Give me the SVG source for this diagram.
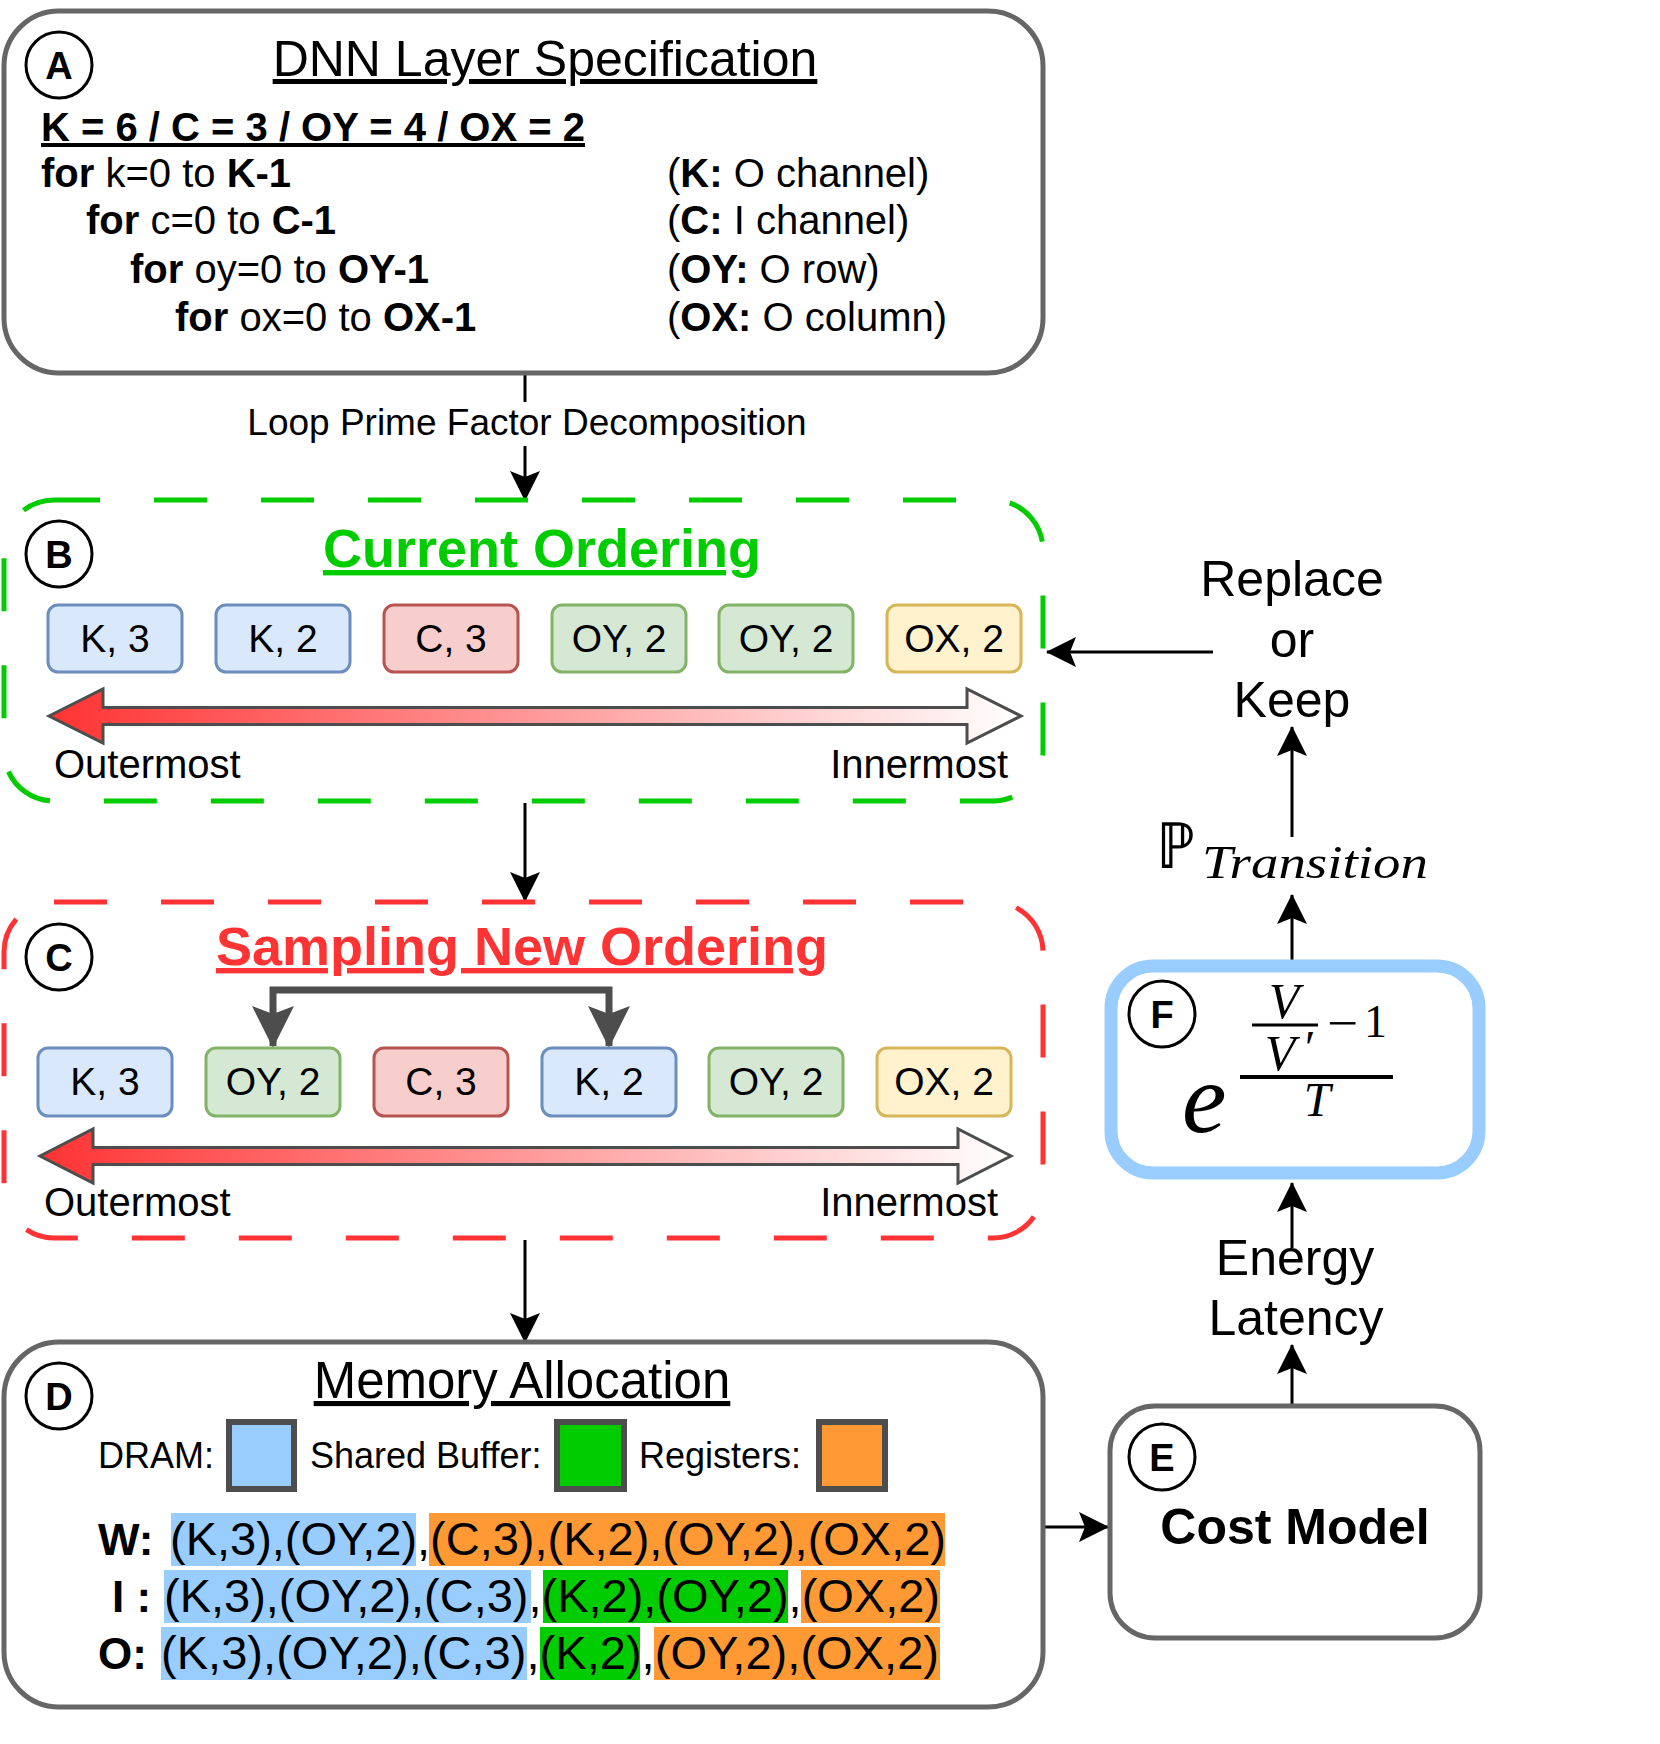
<svg xmlns="http://www.w3.org/2000/svg" width="1660" height="1744" viewBox="0 0 1660 1744">
<style>
text { font-family: "Liberation Sans", Arial, sans-serif; fill: #000; }
.b { font-weight: bold; }
.box { fill: #fff; stroke: #666; stroke-width: 5; }
.circ { fill: #fff; stroke: #000; stroke-width: 3; }
.circt { font-size: 38px; font-weight: bold; text-anchor: middle; }
.code { font-size: 40px; }
.cell { font-size: 39px; text-anchor: middle; }
.blue { fill: #dae8fc; stroke: #6c8ebf; stroke-width: 3; }
.red { fill: #f8cecc; stroke: #b85450; stroke-width: 3; }
.green { fill: #d5e8d4; stroke: #82b366; stroke-width: 3; }
.yellow { fill: #fff2cc; stroke: #d6b656; stroke-width: 3; }
.darr { fill: url(#grad); stroke: #4d4d4d; stroke-width: 3; }
.edge { fill: none; stroke: #000; stroke-width: 3; }
.lbl { font-size: 40px; }
.big { font-size: 50px; text-anchor: middle; }
.row { font-size: 47px; }
.rowl { font-size: 44px; font-weight: bold; }
.leg { font-size: 36px; }
.sw { stroke: #4d4d4d; stroke-width: 6; }
.math { font-family: "Liberation Serif", "Times New Roman", serif; font-style: italic; }
.mathr { font-family: "Liberation Serif", "Times New Roman", serif; }
</style>
<defs>
<linearGradient id="grad" x1="0" y1="0" x2="1" y2="0">
<stop offset="0" stop-color="#FF3333"/>
<stop offset="1" stop-color="#FFFFFF"/>
</linearGradient>
<marker id="arr" markerUnits="userSpaceOnUse" viewBox="0 0 30 30" markerWidth="30" markerHeight="30" refX="29" refY="15" orient="auto">
<path d="M0,0 L30,15 L0,30 L6,15 Z" fill="#000"/>
</marker>
<marker id="arrG" markerUnits="userSpaceOnUse" viewBox="0 0 42 42" markerWidth="42" markerHeight="42" refX="40" refY="21" orient="auto-start-reverse">
<path d="M0,0 L42,21 L0,42 L8,21 Z" fill="#4d4d4d"/>
</marker>
</defs>
<rect width="1660" height="1744" fill="#fff"/>

<g id="connectors">
<line class="edge" x1="525" y1="373" x2="525" y2="402"/>
<text x="527" y="435" font-size="37" text-anchor="middle">Loop Prime Factor Decomposition</text>
<line class="edge" x1="525" y1="446" x2="525" y2="500" marker-end="url(#arr)"/>
<line class="edge" x1="525" y1="803" x2="525" y2="901" marker-end="url(#arr)"/>
<line class="edge" x1="525" y1="1240" x2="525" y2="1342" marker-end="url(#arr)"/>
<line class="edge" x1="1045" y1="1527" x2="1108" y2="1527" marker-end="url(#arr)"/>
<line class="edge" x1="1292" y1="1404" x2="1292" y2="1345" marker-end="url(#arr)"/>
<text class="big" x="1295" y="1275">Energy</text>
<text class="big" x="1296" y="1335">Latency</text>
<line class="edge" x1="1292" y1="1248" x2="1292" y2="1183" marker-end="url(#arr)"/>
<line class="edge" x1="1292" y1="961" x2="1292" y2="895" marker-end="url(#arr)"/>
<text x="1156" y="868" font-family="DejaVu Serif, serif" font-size="64" textLength="40" lengthAdjust="spacingAndGlyphs">ℙ</text>
<text class="math" x="1202" y="878" font-size="46" textLength="226" lengthAdjust="spacingAndGlyphs">Transition</text>
<line class="edge" x1="1292" y1="837" x2="1292" y2="727" marker-end="url(#arr)"/>
<text class="big" x="1292" y="596">Replace</text>
<text class="big" x="1292" y="657">or</text>
<text class="big" x="1292" y="717">Keep</text>
<line class="edge" x1="1213" y1="652" x2="1047" y2="652" marker-end="url(#arr)"/>
</g>

<g id="nodeA">
<rect class="box" x="4" y="11" width="1039" height="362" rx="55"/>
<circle class="circ" cx="59" cy="65" r="33"/>
<text class="circt" x="59" y="79">A</text>
<text x="545" y="76" font-size="50" text-anchor="middle" text-decoration="underline">DNN Layer Specification</text>
<text x="41" y="141" font-size="40" class="b" text-decoration="underline">K = 6 / C = 3 / OY = 4 / OX = 2</text>
<text class="code" x="41" y="187"><tspan class="b">for</tspan> k=0 to <tspan class="b">K-1</tspan></text>
<text class="code" x="86" y="234"><tspan class="b">for</tspan> c=0 to <tspan class="b">C-1</tspan></text>
<text class="code" x="130" y="283"><tspan class="b">for</tspan> oy=0 to <tspan class="b">OY-1</tspan></text>
<text class="code" x="175" y="331"><tspan class="b">for</tspan> ox=0 to <tspan class="b">OX-1</tspan></text>
<text class="code" x="667" y="187">(<tspan class="b">K:</tspan> O channel)</text>
<text class="code" x="667" y="234">(<tspan class="b">C:</tspan> I channel)</text>
<text class="code" x="667" y="283">(<tspan class="b">OY:</tspan> O row)</text>
<text class="code" x="667" y="331">(<tspan class="b">OX:</tspan> O column)</text>
</g>

<g id="nodeB">
<rect x="4" y="500" width="1039" height="301" rx="50" fill="#fff" stroke="#00CC00" stroke-width="5" stroke-dasharray="53 54" stroke-dashoffset="7"/>
<circle class="circ" cx="59" cy="554" r="33"/>
<text class="circt" x="59" y="568">B</text>
<text x="542" y="567" font-size="54" class="b" text-anchor="middle" style="fill:#00CC00" text-decoration="underline">Current Ordering</text>
<rect class="blue" x="48" y="605" width="134" height="67" rx="10"/>
<text class="cell" x="115" y="652">K, 3</text>
<rect class="blue" x="216" y="605" width="134" height="67" rx="10"/>
<text class="cell" x="283" y="652">K, 2</text>
<rect class="red" x="384" y="605" width="134" height="67" rx="10"/>
<text class="cell" x="451" y="652">C, 3</text>
<rect class="green" x="552" y="605" width="134" height="67" rx="10"/>
<text class="cell" x="619" y="652">OY, 2</text>
<rect class="green" x="719" y="605" width="134" height="67" rx="10"/>
<text class="cell" x="786" y="652">OY, 2</text>
<rect class="yellow" x="887" y="605" width="134" height="67" rx="10"/>
<text class="cell" x="954" y="652">OX, 2</text>
<path class="darr" d="M49,716 L103,689 L103,707.5 L967,707.5 L967,689 L1021,716 L967,743 L967,724.5 L103,724.5 L103,743 Z"/>
<text class="lbl" x="54" y="778">Outermost</text>
<text class="lbl" x="1008" y="778" text-anchor="end">Innermost</text>
</g>

<g id="nodeC">
<rect x="4" y="902" width="1039" height="336" rx="50" fill="#fff" stroke="#FF3333" stroke-width="5" stroke-dasharray="53 54"/>
<circle class="circ" cx="59" cy="957" r="33"/>
<text class="circt" x="59" y="971">C</text>
<text x="522" y="965" font-size="54" class="b" text-anchor="middle" style="fill:#FF3333" text-decoration="underline">Sampling New Ordering</text>
<path d="M273,1046 V990 H609 V1046" fill="none" stroke="#4d4d4d" stroke-width="7" marker-start="url(#arrG)" marker-end="url(#arrG)"/>
<rect class="blue" x="38" y="1048" width="134" height="68" rx="10"/>
<text class="cell" x="105" y="1095">K, 3</text>
<rect class="green" x="206" y="1048" width="134" height="68" rx="10"/>
<text class="cell" x="273" y="1095">OY, 2</text>
<rect class="red" x="374" y="1048" width="134" height="68" rx="10"/>
<text class="cell" x="441" y="1095">C, 3</text>
<rect class="blue" x="542" y="1048" width="134" height="68" rx="10"/>
<text class="cell" x="609" y="1095">K, 2</text>
<rect class="green" x="709" y="1048" width="134" height="68" rx="10"/>
<text class="cell" x="776" y="1095">OY, 2</text>
<rect class="yellow" x="877" y="1048" width="134" height="68" rx="10"/>
<text class="cell" x="944" y="1095">OX, 2</text>
<path class="darr" d="M40,1156 L93,1129 L93,1147.5 L958,1147.5 L958,1129 L1011,1156 L958,1183 L958,1164.5 L93,1164.5 L93,1183 Z"/>
<text class="lbl" x="44" y="1216">Outermost</text>
<text class="lbl" x="998" y="1216" text-anchor="end">Innermost</text>
</g>

<g id="nodeD">
<rect class="box" x="4" y="1342" width="1039" height="365" rx="55"/>
<circle class="circ" cx="59" cy="1396" r="33"/>
<text class="circt" x="59" y="1410">D</text>
<text x="522" y="1398" font-size="51" text-anchor="middle" text-decoration="underline">Memory Allocation</text>
<text class="leg" x="98" y="1468">DRAM:</text>
<rect class="sw" x="229" y="1422" width="65" height="67" fill="#99CCFF"/>
<text class="leg" x="310" y="1468">Shared Buffer:</text>
<rect class="sw" x="557" y="1422" width="67" height="67" fill="#00CC00"/>
<text class="leg" x="639" y="1468">Registers:</text>
<rect class="sw" x="819" y="1422" width="66" height="67" fill="#FF9933"/>
<rect x="171" y="1513" width="245" height="53" fill="#99CCFF"/>
<rect x="429" y="1513" width="516" height="53" fill="#FF9933"/>
<rect x="164" y="1570" width="367" height="53" fill="#99CCFF"/>
<rect x="543" y="1570" width="245" height="53" fill="#00CC00"/>
<rect x="801" y="1570" width="139" height="53" fill="#FF9933"/>
<rect x="161" y="1627" width="366" height="53" fill="#99CCFF"/>
<rect x="540" y="1627" width="100" height="53" fill="#00CC00"/>
<rect x="654" y="1627" width="286" height="53" fill="#FF9933"/>
<text class="rowl" x="98" y="1555">W:</text>
<text class="row" x="170" y="1555" textLength="776">(K,3),(OY,2),(C,3),(K,2),(OY,2),(OX,2)</text>
<text class="rowl" x="112" y="1612">I :</text>
<text class="row" x="164" y="1612" textLength="776">(K,3),(OY,2),(C,3),(K,2),(OY,2),(OX,2)</text>
<text class="rowl" x="98" y="1669">O:</text>
<text class="row" x="161" y="1669" textLength="778">(K,3),(OY,2),(C,3),(K,2),(OY,2),(OX,2)</text>
</g>

<g id="nodeE">
<rect class="box" x="1110" y="1406" width="370" height="232" rx="45"/>
<circle class="circ" cx="1162" cy="1457" r="33"/>
<text class="circt" x="1162" y="1471">E</text>
<text x="1295" y="1544" font-size="50" class="b" text-anchor="middle">Cost Model</text>
</g>

<g id="nodeF">
<rect x="1111" y="966" width="368" height="207" rx="42" fill="#fff" stroke="#99CCFF" stroke-width="13"/>
<circle class="circ" cx="1162" cy="1014" r="33"/>
<text class="circt" x="1162" y="1028">F</text>
<text class="math" x="1182" y="1132" font-size="100">e</text>
<line x1="1240" y1="1077" x2="1393" y2="1077" stroke="#000" stroke-width="4"/>
<text class="math" x="1317" y="1116" font-size="48" text-anchor="middle">T</text>
<line x1="1252" y1="1025" x2="1318" y2="1025" stroke="#000" stroke-width="3"/>
<text class="math" x="1284" y="1018" font-size="50" text-anchor="middle">V</text>
<text class="math" x="1280" y="1070" font-size="50" text-anchor="middle">V</text>
<text class="math" x="1302" y="1064" font-size="48">′</text>
<text class="mathr" x="1327" y="1040" font-size="50" textLength="31" lengthAdjust="spacingAndGlyphs">−</text>
<text class="mathr" x="1364" y="1037" font-size="46">1</text>
</g>
</svg>
